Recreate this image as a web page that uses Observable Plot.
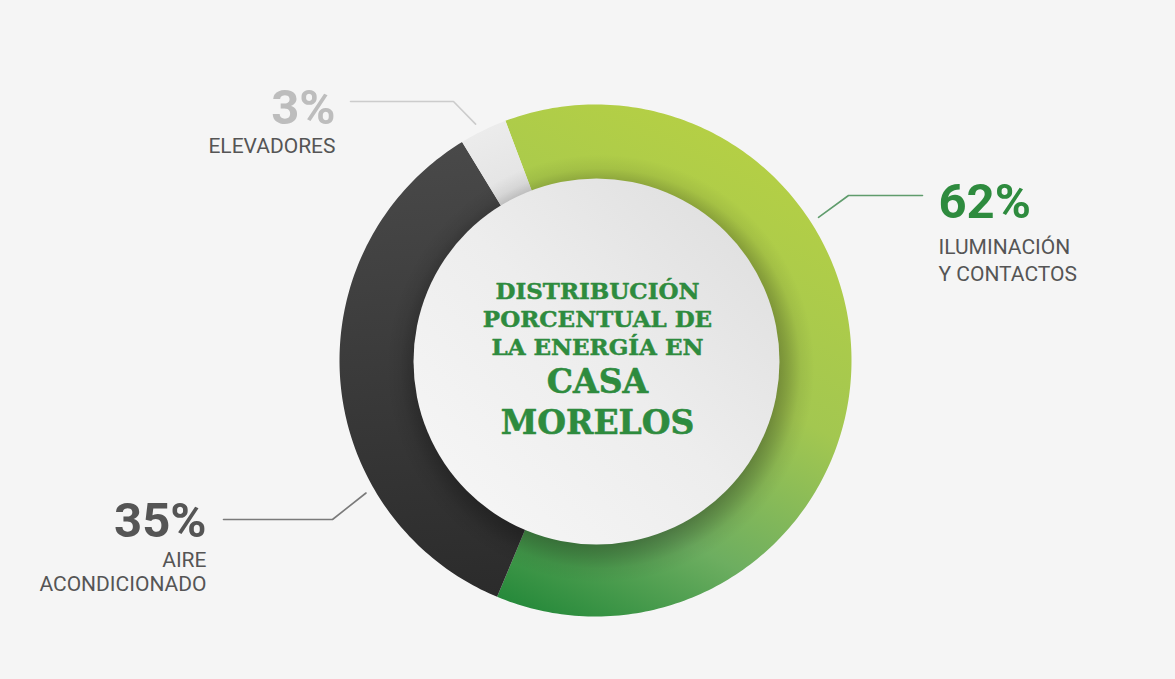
<!DOCTYPE html>
<html><head><meta charset="utf-8">
<script src="https://cdn.jsdelivr.net/npm/d3@7"></script>
<script src="https://cdn.jsdelivr.net/npm/@observablehq/plot@0.6"></script>
<style>
html,body{margin:0;padding:0;background:#f5f5f5;overflow:hidden;}
g[aria-label="sublabels"] text{letter-spacing:-0.6px}
g[aria-label="pct"] text{letter-spacing:-1px}
</style></head><body><div id="chart"></div>
<script>
// ---- data ----
const categories = ["Iluminación y contactos", "Aire acondicionado", "Elevadores"];
const values = [62, 35, 3];
const percentLabels = ["62%", "35%", "3%"];
const subLabels = [["ILUMINACIÓN", "Y CONTACTOS"], ["AIRE", "ACONDICIONADO"], ["ELEVADORES"]];
const titleLines = ["DISTRIBUCIÓN", "PORCENTUAL DE", "LA ENERGÍA EN"];
const nameLines = ["CASA", "MORELOS"];

// ---- layout & style ----
const W = 1175, H = 679;
const L = {
  cx: 595, cy: 360, rOuter: 256, rInner: 150,
  disc: {x: 596, y: 361, r: 183},
  shadow: {dx: 4, dy: 7, r: 214},
  startDeg: -20.6,
  sliceFill: ["url(#gGreen)", "url(#gDark)", "url(#gGray)"],
  pctColor: ["#2e8b3e", "#555555", "#bdbdbd"],
  lineColor: ["#5f9c6c", "#7a7a7a", "#cccccc"],
  labels: [
    {x: 938, y: 217, anchor: "start", subY: [253, 280], leader: {angle: 57.3, elbow: [848, 195], end: [922, 195]}},
    {x: 206, y: 536, anchor: "end", subY: [566, 590], leader: {angle: 240, elbow: [332, 519], end: [223, 519]}},
    {x: 335, y: 123, anchor: "end", subY: [152], leader: {angle: -26.9, elbow: [453, 101], end: [350, 101]}}
  ],
  leaderR: 265,
  titleX: 597, titleY: [298, 326, 354], nameY: [392, 433]
};

const rad = d => d * Math.PI / 180;
const polar = (a, r) => [L.cx + r * Math.sin(a), L.cy - r * Math.cos(a)];

// slices from values
const arcs = d3.pie().sort(null).startAngle(rad(L.startDeg)).endAngle(rad(L.startDeg) + 2 * Math.PI)(values);
const slicePts = [];
arcs.forEach((a, i) => {
  const n = Math.max(8, Math.ceil((a.endAngle - a.startAngle) / rad(1)));
  const pts = [];
  for (let k = 0; k <= n; k++) pts.push(polar(a.startAngle + (a.endAngle - a.startAngle) * k / n, L.rOuter));
  for (let k = n; k >= 0; k--) pts.push(polar(a.startAngle + (a.endAngle - a.startAngle) * k / n, L.rInner));
  pts.forEach(([x, y], j) => slicePts.push({cat: categories[i], i, x, y, j}));
});

// leader lines
const leaderPts = [];
L.labels.forEach((lab, i) => {
  const p0 = polar(rad(lab.leader.angle), L.leaderR);
  [p0, lab.leader.elbow, lab.leader.end].forEach(([x, y]) => leaderPts.push({i, x, y}));
});

const pctRows = percentLabels.map((t, i) => ({t, i, x: L.labels[i].x, y: L.labels[i].y, anchor: L.labels[i].anchor}));
const subRows = subLabels.flatMap((lines, i) => lines.map((t, k) => ({t, i, x: L.labels[i].x, y: L.labels[i].subY[k], anchor: L.labels[i].anchor})));
const titleRows = titleLines.map((t, k) => ({t, x: L.titleX, y: L.titleY[k]}));
const nameRows = nameLines.map((t, k) => ({t, x: L.titleX, y: L.nameY[k]}));

const inner = L.disc.r / L.shadow.r;
const defs = () => {
  const g = document.createElementNS("http://www.w3.org/2000/svg", "g");
  g.innerHTML = `<defs>
    <linearGradient id="gGreen" gradientUnits="userSpaceOnUse" x1="760" y1="130" x2="520" y2="610">
      <stop offset="0" stop-color="#b6d044"/>
      <stop offset="0.45" stop-color="#a3c750"/>
      <stop offset="0.75" stop-color="#6dae60"/>
      <stop offset="1" stop-color="#25893a"/>
    </linearGradient>
    <linearGradient id="gDark" gradientUnits="userSpaceOnUse" x1="420" y1="130" x2="460" y2="600">
      <stop offset="0" stop-color="#4a4a4a"/>
      <stop offset="1" stop-color="#2b2b2b"/>
    </linearGradient>
    <linearGradient id="gGray" gradientUnits="userSpaceOnUse" x1="480" y1="110" x2="520" y2="200">
      <stop offset="0" stop-color="#eeeeee"/>
      <stop offset="1" stop-color="#e2e2e2"/>
    </linearGradient>
    <linearGradient id="gDisc" gradientUnits="userSpaceOnUse" x1="440" y1="520" x2="760" y2="200">
      <stop offset="0" stop-color="#f6f6f6"/>
      <stop offset="0.5" stop-color="#ededed"/>
      <stop offset="1" stop-color="#dedede"/>
    </linearGradient>
    <radialGradient id="gShadow">
      <stop offset="${(inner - 0.08).toFixed(3)}" stop-color="#000" stop-opacity="0.4"/>
      <stop offset="${(inner + 0.02).toFixed(3)}" stop-color="#000" stop-opacity="0.2"/>
      <stop offset="${(inner + 0.08).toFixed(3)}" stop-color="#000" stop-opacity="0.06"/>
      <stop offset="1" stop-color="#000" stop-opacity="0"/>
    </radialGradient>
  </defs>`;
  return g;
};

const textMarks = (rows, opts) => ["start", "end", "middle"].map(a =>
  Plot.text(rows.filter(d => (d.anchor || "middle") === a), {x: "x", y: "y", text: "t", textAnchor: a, lineAnchor: "bottom", ...opts}));

const chart = Plot.plot({
  width: W, height: H, margin: 0,
  x: {domain: [0, W], range: [0, W], axis: null},
  y: {domain: [0, H], range: [0, H], axis: null},
  style: {background: "#f5f5f5", overflow: "visible"},
  marks: [
    defs,
    ...arcs.map((a, i) => Plot.line(slicePts.filter(d => d.i === i), {x: "x", y: "y", curve: "linear-closed", fill: L.sliceFill[i], stroke: "none"})),
    Plot.dot([L.disc], {x: d => d.x + L.shadow.dx, y: d => d.y + L.shadow.dy, r: L.shadow.r, fill: "url(#gShadow)", stroke: "none"}),
    Plot.dot([L.disc], {x: "x", y: "y", r: L.disc.r, fill: "url(#gDisc)", stroke: "none"}),
    ...L.labels.map((lab, i) => Plot.line(leaderPts.filter(d => d.i === i), {x: "x", y: "y", stroke: L.lineColor[i], strokeWidth: 1.6})),
    ...textMarks(pctRows, {fill: d => L.pctColor[d.i], fontSize: 49, fontWeight: "bold", fontFamily: "Roboto", ariaLabel: "pct"}),
    ...textMarks(subRows, {fill: "#555555", fontSize: 21, fontFamily: "Roboto", ariaLabel: "sublabels"}),
    ...textMarks(titleRows, {fill: "#2e8b3e", stroke: "#2e8b3e", strokeWidth: 0.5, fontSize: 23, fontWeight: "bold", fontFamily: "DejaVu Serif", ariaLabel: "title"}),
    ...textMarks(nameRows, {fill: "#2e8b3e", stroke: "#2e8b3e", strokeWidth: 0.6, fontSize: 33, fontWeight: "bold", fontFamily: "DejaVu Serif", ariaLabel: "name"})
  ]
});
document.getElementById("chart").appendChild(chart);
</script></body></html>
